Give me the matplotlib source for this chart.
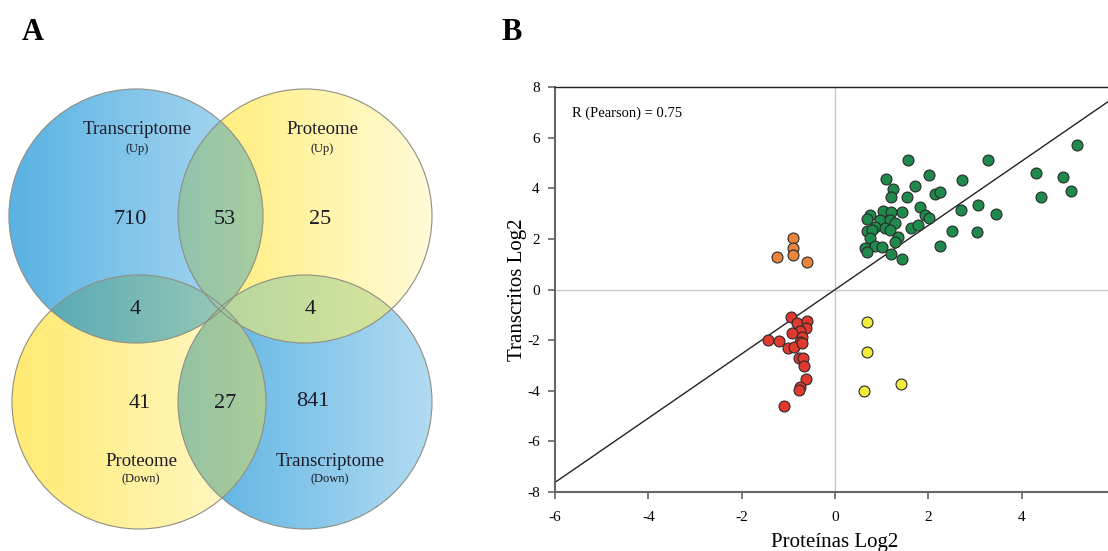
import numpy as np
import matplotlib
matplotlib.use('Agg')
import matplotlib.pyplot as plt
from matplotlib.patches import Circle

plt.rcParams['font.family'] = ['Liberation Serif', 'DejaVu Serif']
plt.rcParams['axes.unicode_minus'] = False

# venn counts (panel A)
venn_sets = ['Transcriptome (Up)', 'Proteome (Up)', 'Proteome (Down)', 'Transcriptome (Down)']
venn_only = [710, 25, 41, 841]
venn_pairs = {('tu', 'pu'): 53, ('tu', 'pd'): 4, ('pu', 'td'): 4, ('pd', 'td'): 27}

# scatter data (panel B), log2 proteins vs log2 transcripts
green_x = [1.56, 1.09, 2.01, 2.73, 1.71, 1.24, 1.21, 1.54, 2.14, 2.25, 1.82, 1.93, 2.01, 1.44,
           1.03, 1.21, 0.76, 0.68, 0.96, 1.18, 1.28, 0.86, 1.07, 0.68, 0.79, 1.18, 1.62, 1.78,
           2.71, 3.07, 2.50, 3.04, 1.34, 0.75, 1.28, 0.64, 0.86, 1.00, 0.68, 2.24, 1.19, 1.43,
           3.27, 5.18, 4.30, 4.89, 5.05, 4.42, 3.46]
green_y = [5.12, 4.37, 4.53, 4.33, 4.11, 3.96, 3.65, 3.67, 3.78, 3.87, 3.28, 2.95, 2.84, 3.08,
           3.11, 3.08, 2.95, 2.79, 2.75, 2.75, 2.62, 2.49, 2.42, 2.33, 2.36, 2.36, 2.42, 2.55,
           3.15, 3.36, 2.33, 2.28, 2.09, 2.03, 1.89, 1.63, 1.72, 1.67, 1.50, 1.72, 1.41, 1.20,
           5.12, 5.72, 4.62, 4.46, 3.90, 3.65, 2.99]
red_x = [-0.94, -0.82, -0.61, -0.62, -0.75, -0.93, -0.71, -1.43, -1.21, -0.75, -1.00, -0.87,
         -0.71, -0.78, -0.69, -0.66, -0.62, -0.75, -0.78, -1.09]
red_y = [-1.10, -1.31, -1.23, -1.53, -1.62, -1.73, -1.86, -1.99, -2.03, -2.06, -2.30, -2.26,
         -2.12, -2.72, -2.72, -3.02, -3.55, -3.86, -3.97, -4.60]
orange_x = [-1.25, -0.89, -0.89, -0.91, -0.61]
orange_y = [1.30, 2.03, 1.63, 1.37, 1.08]
yellow_x = [0.68, 0.69, 0.63, 1.41]
yellow_y = [-1.29, -2.45, -4.00, -3.73]

fit_slope = 1.27
pearson_r = 0.75

fig = plt.figure(figsize=(11.08, 5.51), dpi=100)

# ---------------- panel A: venn ----------------
ax1 = fig.add_axes([0, 0, 500 / 1108, 1])
ax1.set_xlim(0, 500)
ax1.set_ylim(551, 0)
ax1.axis('off')

radius = 127
centres = {'tu': (136, 216), 'pu': (305, 216), 'pd': (139, 402), 'td': (305, 402)}
fills = {'tu': ('#58b2e3', '#b0daf1'), 'td': ('#55b0e2', '#b2dbf1'),
         'pu': ('#ffec6e', '#fffbd8'), 'pd': ('#ffeb70', '#fff9d0')}
lens_fills = {('tu', 'pu'): ('#90c3ac', '#a9cd9f'), ('tu', 'pd'): ('#5aaab6', '#96c8b4'),
              ('pu', 'td'): ('#b6d69c', '#d6e49c'), ('pd', 'td'): ('#94c3a2', '#abcc9a')}


def rgb(h):
    return np.array([int(h[i:i + 2], 16) for i in (1, 3, 5)]) / 255.


step = 0.5
xs = np.arange(0, 500, step) + step / 2
ys = np.arange(0, 551, step) + step / 2
X, Y = np.meshgrid(xs, ys)
img = np.ones(X.shape + (3,))
masks = {k: (X - c[0]) ** 2 + (Y - c[1]) ** 2 <= radius ** 2 for k, c in centres.items()}
count = sum(m.astype(int) for m in masks.values())

for k, (cx, cy) in centres.items():
    t = np.clip((X - (cx - radius)) / (2 * radius), 0, 1)
    c0, c1 = rgb(fills[k][0]), rgb(fills[k][1])
    col = c0 + (c1 - c0) * t[..., None]
    sel = masks[k] & (count == 1)
    img[sel] = col[sel]

for (a, b), (h0, h1) in lens_fills.items():
    sel = masks[a] & masks[b]
    xmin, xmax = X[sel].min(), X[sel].max()
    t = np.clip((X - xmin) / (xmax - xmin), 0, 1)
    c0, c1 = rgb(h0), rgb(h1)
    col = c0 + (c1 - c0) * t[..., None]
    img[sel] = col[sel]

ax1.imshow(img, extent=(0, 500, 551, 0), interpolation='antialiased', zorder=1)
for k, c in centres.items():
    ax1.add_patch(Circle(c, radius, fill=False, ec='#8e8e84', lw=0.8, zorder=2))

tc = '#1c1c28'
name_pos = [(137, 130, 149), (322, 130, 149), (141, 461, 479), (330, 461, 479)]
for name, (x, y1, y2) in zip(venn_sets, name_pos):
    main, sub = name.split(' ')
    ax1.text(x, y1, main, ha='center', va='center', fontsize=13.5, color=tc)
    ax1.text(x, y2, sub, ha='center', va='center', fontsize=9, color=tc)

only_pos = [(130, 219), (320, 219), (140, 404), (313, 401)]
for n, (x, y) in zip(venn_only, only_pos):
    ax1.text(x, y, str(n), ha='center', va='center', fontsize=16, color=tc)
pair_pos = {('tu', 'pu'): (225, 219), ('tu', 'pd'): (135, 310), ('pu', 'td'): (310, 310),
            ('pd', 'td'): (225, 404)}
for key, n in venn_pairs.items():
    x, y = pair_pos[key]
    ax1.text(x, y, str(n), ha='center', va='center', fontsize=16, color=tc)

fig.text(33 / 1108, 1 - 33 / 551, 'A', fontsize=22, fontweight='bold', ha='center', va='center')
fig.text(512 / 1108, 1 - 33 / 551, 'B', fontsize=22, fontweight='bold', ha='center', va='center')

# ---------------- panel B: scatter ----------------
ax2 = fig.add_axes([555 / 1108, 59 / 551, 560 / 1108, 404.7 / 551])
ax2.set_xlim(-6, 6)
ax2.set_ylim(-8, 8)
ax2.set_xticks(range(-6, 7, 2))
ax2.set_yticks(range(-8, 9, 2))
ax2.axhline(0, color='#c8c8c8', lw=1, zorder=0)
ax2.axvline(0, color='#c8c8c8', lw=1, zorder=0)

xl = np.array([-6, 6])
ax2.plot(xl, fit_slope * xl, color='#222222', lw=1, zorder=1)

pts = dict(s=62, edgecolors='#2a2a2a', linewidths=0.8, zorder=3)
ax2.scatter(green_x, green_y, c='#1f8a4c', **pts)
ax2.scatter(red_x, red_y, c='#e03a30', **pts)
ax2.scatter(orange_x, orange_y, c='#e8853a', **pts)
ax2.scatter(yellow_x, yellow_y, c='#f4ec3a', **pts)

ax2.text(-5.64, 6.98, 'R (Pearson) = %.2f' % pearson_r, fontsize=10.5, va='center', ha='left')

for s in ['left', 'bottom']:
    ax2.spines[s].set_color('#666666')
    ax2.spines[s].set_linewidth(1.5)
ax2.spines['top'].set_color('#222222')
ax2.spines['top'].set_linewidth(1.0)
ax2.spines['right'].set_visible(False)
ax2.tick_params(direction='out', length=5, width=1.2, color='#666666', labelsize=11)
ax2.tick_params(axis='x', pad=9)
ax2.tick_params(axis='y', pad=6)
ax2.set_xlabel('Proteínas Log2', fontsize=15, labelpad=6)
ax2.set_ylabel('Transcritos Log2', fontsize=15, labelpad=0)

fig.savefig('out.png', dpi=100)
